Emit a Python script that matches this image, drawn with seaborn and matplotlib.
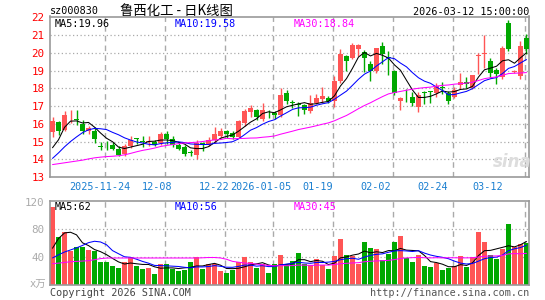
import numpy as np
import pandas as pd
import matplotlib
matplotlib.use("Agg")
import matplotlib.pyplot as plt
import seaborn as sns

# ---------------- data ----------------
tick_idx = [9, 19, 29, 37, 47, 57, 67, 79]
tick_labels = ["2025-11-24", "12-08", "12-22", "2026-01-05", "01-19", "02-02", "02-24", "03-12"]

opens = [15.52, 16.10, 15.64, 16.30, 16.25, 16.00, 15.58, 15.62, 14.75, 14.77,
         14.83, 14.57, 14.27, 14.77, 15.20, 15.05, 15.00, 15.00, 14.92, 15.43,
         15.15, 14.83, 14.70, 14.38, 14.24, 14.90, 14.80, 15.11, 15.34, 15.62,
         15.48, 15.28, 16.02, 16.66, 16.75, 16.25, 16.68, 16.62, 16.47, 17.72,
         17.25, 17.13, 17.05, 16.72, 17.18, 17.37, 17.43, 17.26, 18.40, 19.82,
         19.72, 20.24, 20.03, 19.35, 18.95, 20.38, 19.75, 18.96, 17.31, 17.48,
         17.52, 16.94, 17.80, 17.80, 17.75, 18.10, 17.75, 17.52, 18.20, 18.38,
         18.03, 19.85, 19.92, 19.52, 19.02, 18.62, 21.70, 18.93, 18.68, 20.85]
highs = [16.40, 16.15, 16.72, 16.80, 16.75, 16.20, 15.87, 15.83, 15.00, 15.02,
         14.97, 14.73, 14.87, 15.32, 15.22, 15.30, 15.30, 15.10, 15.55, 15.62,
         15.30, 14.92, 14.83, 14.50, 15.10, 15.00, 15.25, 15.83, 15.77, 15.65,
         15.62, 16.20, 16.85, 17.04, 16.85, 17.15, 16.80, 16.70, 18.00, 17.88,
         17.32, 17.25, 17.13, 17.65, 17.70, 18.10, 17.55, 18.68, 20.20, 19.90,
         20.53, 20.52, 20.15, 19.53, 20.30, 20.60, 20.12, 19.05, 17.50, 17.95,
         17.78, 17.80, 17.83, 17.87, 18.30, 18.38, 17.83, 18.05, 18.88, 18.65,
         18.77, 19.98, 21.00, 19.72, 19.15, 20.36, 21.85, 19.05, 20.66, 21.07]
lows = [15.25, 15.35, 15.58, 16.05, 15.95, 15.40, 15.40, 14.90, 14.50, 14.50,
        14.50, 14.20, 14.20, 14.63, 14.85, 14.70, 14.75, 14.72, 14.78, 14.85,
        14.70, 14.50, 14.20, 14.17, 14.03, 14.45, 14.75, 14.92, 15.20, 15.20,
        15.15, 15.20, 15.87, 16.40, 16.20, 16.15, 16.30, 16.25, 16.40, 17.14,
        16.90, 16.45, 16.55, 16.62, 17.10, 17.15, 17.20, 16.95, 18.30, 18.97,
        19.68, 19.80, 18.90, 18.40, 18.85, 19.35, 18.76, 17.65, 16.77, 17.22,
        17.00, 16.68, 17.10, 17.15, 17.50, 17.70, 17.10, 17.46, 17.98, 18.00,
        17.97, 18.79, 19.15, 18.60, 18.22, 18.50, 20.10, 18.88, 18.52, 19.92]
closes = [16.17, 15.62, 16.48, 16.35, 16.20, 15.58, 15.77, 15.16, 14.70, 14.72,
          14.60, 14.26, 14.75, 15.10, 15.12, 15.00, 15.05, 14.82, 15.42, 15.15,
          14.83, 14.58, 14.32, 14.34, 14.94, 14.85, 15.11, 15.45, 15.58, 15.45,
          15.27, 16.15, 16.72, 16.87, 16.40, 16.75, 16.64, 16.47, 17.65, 17.28,
          17.18, 17.05, 16.80, 17.18, 17.47, 17.56, 17.30, 18.40, 19.95, 19.53,
          20.47, 20.47, 19.69, 18.97, 20.25, 19.93, 19.70, 17.75, 17.46, 17.43,
          17.18, 17.60, 17.76, 17.78, 18.12, 18.00, 17.27, 17.92, 18.38, 18.26,
          18.73, 19.90, 19.96, 18.85, 18.78, 20.27, 20.20, 18.97, 20.38, 20.20]
volumes = [112, 69.7, 76.8, 48.3, 54.5, 54.5, 49.8, 48.3, 33, 33,
           27.5, 24.6, 33, 40.3, 27.5, 22.7, 24.6, 16.1, 29.9, 29.9,
           22.7, 19.9, 21.3, 33, 40.3, 22.7, 29.9, 29.9, 19.9, 16.6,
           21.3, 33, 40.3, 33, 24.6, 29.9, 16.6, 30.8, 42.7, 28.4,
           34.1, 46.4, 30.8, 28.4, 37, 28.4, 22.7, 41.2, 66.4, 43.6,
           41.2, 30.8, 62.6, 53.6, 51.2, 35.5, 45, 61.6, 70.1, 38.9,
           33.2, 42.7, 27.5, 26.1, 32.2, 21.3, 24.6, 27.5, 41.2, 26.1,
           40.3, 76.8, 62.6, 43.6, 37, 51.2, 88.2, 54.5, 59.2, 60.2]

# moving-average values at the start of the window (history before the window is not shown)
ma5_head = [14.65, 15.10, 15.80, 16.15]
ma10_head = [14.05, 14.36, 14.70, 15.00, 15.26, 15.50, 15.66, 15.74, 15.72]
ma30_head = [13.70, 13.75, 13.80, 13.85, 13.90, 13.95, 14.02, 14.08, 14.12, 14.15,
             14.17, 14.20, 14.25, 14.33, 14.42, 14.50, 14.56, 14.63, 14.72, 14.78,
             14.83, 14.88, 14.92, 14.94, 14.96, 15.00, 15.05, 15.09, 15.11]
vma5_head = [53, 67, 75, 76]
vma10_head = [39, 43.5, 47.5, 50.5, 53.5, 57, 61, 63, 62]
vma30_head = [30.8, 31.5, 32.5, 33.5, 34.0, 34.5, 35.0, 36.5, 38.0, 38.8,
              38.9, 38.9, 38.9, 38.9, 38.9, 38.9, 38.9, 38.9, 38.9, 38.9,
              38.9, 38.9, 38.9, 38.9, 38.9, 39.2, 39.6, 39.6, 39.0]

price_legend = ["MA5:19.96", "MA10:19.58", "MA30:18.84"]
vol_legend = ["MA5:62", "MA10:56", "MA30:45"]
price_ticks = [13, 14, 15, 16, 17, 18, 19, 20, 21, 22]
vol_ticks = [40, 80, 120]

# ---------------- helpers ----------------
def moving(values, n, head):
    s = pd.Series(values, dtype=float).rolling(n).mean().to_numpy()
    s[:len(head)] = head
    return s

W, H = 545, 300
def fx(px):
    return px / W
def fy(py):
    return 1 - py / H

RED = "#FF5555"
GREEN = "#00A800"
GRID = "#AAAAAA"
BORDER = "#999999"
DATEC = "#1A7FD0"
LW = 0.75

sns.set_style("white")
plt.rcParams["font.family"] = ["DejaVu Sans Mono", "Noto Sans CJK SC"]

idx = np.arange(len(closes))
o = np.array(opens); c = np.array(closes)
hi = np.array(highs); lo = np.array(lows)
up = c >= o
colors = np.where(up, RED, GREEN)

fig = plt.figure(figsize=(W / 100, H / 100), dpi=100)
ax = fig.add_axes([fx(50), fy(177), fx(529) - fx(50), fy(16.5) - fy(177)])
axv = fig.add_axes([fx(50), fy(285), fx(529) - fx(50), fy(201) - fy(285)])

xlim = (-0.42, 79.42)

# ---- price panel ----
for y in price_ticks[1:-1]:
    ax.axhline(y, color=GRID, lw=0.9, ls=(0, (1, 2)), zorder=0)
for t in tick_idx:
    ax.axvline(t - 0.3, color=GRID, lw=1.0, ls=(0, (4, 3)), zorder=0)
    axv.axvline(t - 0.3, color=GRID, lw=1.0, ls=(0, (4, 3)), zorder=0)

ax.vlines(idx, lo, hi, colors=colors, lw=1.0, zorder=2)
body_h = np.maximum(np.abs(c - o), 0.05)
ax.bar(idx, body_h, bottom=np.minimum(o, c), width=0.78, color=colors, zorder=3, linewidth=0)

ma5 = moving(closes, 5, ma5_head)
ma10 = moving(closes, 10, ma10_head)
ma30 = moving(closes, 30, ma30_head)
sns.lineplot(x=idx, y=ma5, ax=ax, color="black", lw=LW, zorder=4)
sns.lineplot(x=idx, y=ma10, ax=ax, color="#0000FF", lw=LW, zorder=4)
sns.lineplot(x=idx, y=ma30, ax=ax, color="#FF00FF", lw=LW, zorder=4)

ax.set_xlim(*xlim)
ax.set_ylim(13, 22.05)
ax.set_xticks([])
ax.set_yticks(price_ticks)
ax.set_yticklabels([str(v) for v in price_ticks], color="#FF0000", fontsize=7.8)
ax.tick_params(axis="y", length=0, pad=4)
for s in ax.spines.values():
    s.set_color(BORDER); s.set_linewidth(1.2)

# ---- volume panel ----
for y in vol_ticks[:-1]:
    axv.axhline(y, color=GRID, lw=0.9, ls=(0, (1, 2)), zorder=0)
updown = np.where(up, "up", "down")
sns.barplot(x=idx, y=volumes, hue=updown, palette={"up": RED, "down": GREEN},
            dodge=False, native_scale=True, width=0.83, saturation=1,
            errorbar=None, legend=False, ax=axv, zorder=2, linewidth=0)
vma5 = moving(volumes, 5, vma5_head)
vma10 = moving(volumes, 10, vma10_head)
vma30 = moving(volumes, 30, vma30_head)
sns.lineplot(x=idx, y=vma5, ax=axv, color="black", lw=LW, zorder=4)
sns.lineplot(x=idx, y=vma10, ax=axv, color="#0000FF", lw=LW, zorder=4)
sns.lineplot(x=idx, y=vma30, ax=axv, color="#FF00FF", lw=LW, zorder=4)
axv.set_xlim(*xlim)
axv.set_ylim(0, 121)
axv.set_xticks([])
axv.set_yticks(vol_ticks)
axv.set_yticklabels([str(v) for v in vol_ticks], color="#AAAAAA", fontsize=7.8)
axv.tick_params(axis="y", length=0, pad=4)
axv.set_xlabel(""); axv.set_ylabel("")
for s in axv.spines.values():
    s.set_color(BORDER); s.set_linewidth(1.2)

# ---- texts ----
fs = 7.3
fig.text(fx(50), fy(11.5), "sz000830", fontsize=fs, color="black", va="center", ha="left")
fig.text(fx(120), fy(11), "鲁西化工 - 日K线图", fontsize=9.6, color="black", va="center", ha="left",
         family=["Noto Sans CJK SC", "DejaVu Sans"])
fig.text(fx(529), fy(12), "2026-03-12 15:00:00", fontsize=fs, color="black", va="center", ha="right")

leg_x = [55, 175, 294]
leg_c = ["black", "#0000FF", "#FF00FF"]
for t, xx, cc in zip(price_legend, leg_x, leg_c):
    fig.text(fx(xx), fy(24.3), t, fontsize=fs, color=cc, va="center", ha="left")
for t, xx, cc in zip(vol_legend, leg_x, leg_c):
    fig.text(fx(xx), fy(207), t, fontsize=fs, color=cc, va="center", ha="left")

label_px = [99.5, 157, 214.5, 260.5, 317.5, 375.5, 433, 487.5]
for t, xx in zip(tick_labels, label_px):
    fig.text(fx(xx), fy(186.8), t, fontsize=fs, color=DATEC, va="center", ha="center")

fig.text(fx(46), fy(285), "x万", fontsize=7.5, color="#AAAAAA", va="center", ha="right",
         family=["DejaVu Sans Mono", "Noto Sans CJK SC"])
fig.text(fx(50), fy(293), "Copyright 2026 SINA.COM", fontsize=fs, color="#444444", va="center", ha="left")
fig.text(fx(529), fy(293), "http://finance.sina.com.cn", fontsize=fs, color="#555555", va="center", ha="right")
fig.text(fx(512), fy(162), "sina", fontsize=12, color="#DDDDDD", va="center", ha="center",
         style="italic", weight="bold", family="DejaVu Sans")

fig.savefig("out.png", dpi=100)
